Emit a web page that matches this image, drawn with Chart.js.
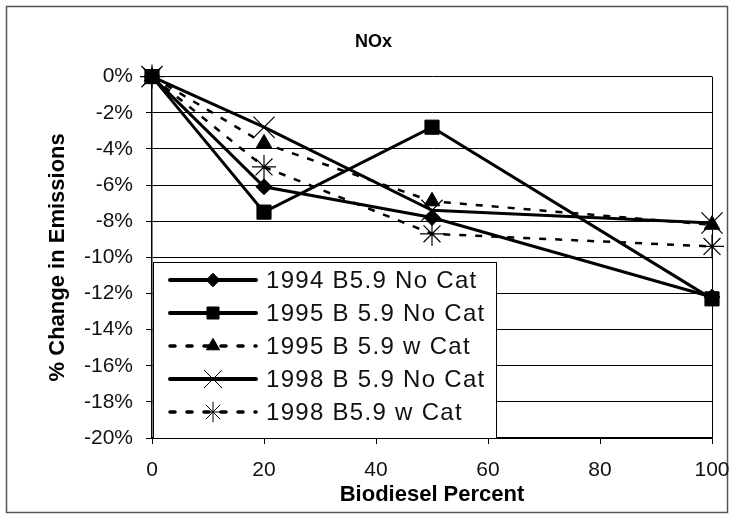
<!DOCTYPE html>
<html><head><meta charset="utf-8">
<script src="https://cdn.jsdelivr.net/npm/chart.js@4/dist/chart.umd.min.js"></script>
<style>html,body{margin:0;padding:0;background:#fff;}#wrap{width:733px;height:518px;position:relative;}</style>
</head><body><div id="wrap"><canvas id="c" width="733" height="518"></canvas></div>
<script>
// ---- data ----
const biodieselPercent = [0, 20, 50, 100];
const seriesNames = ['1994 B5.9 No Cat', '1995 B 5.9 No Cat', '1995 B 5.9 w Cat', '1998 B 5.9 No Cat', '1998 B5.9 w Cat'];
const nox1994NoCat = [0, -6.1, -7.8, -12.2];
const nox1995NoCat = [0, -7.5, -2.8, -12.3];
const nox1995WCat  = [0, -3.7, -6.9, -8.2];
const nox1998NoCat = [0, -2.8, -7.4, -8.1];
const nox1998WCat  = [0, -5.0, -8.7, -9.4];
const xTickValues = [0, 20, 40, 60, 80, 100];
const yTickValues = [0, -2, -4, -6, -8, -10, -12, -14, -16, -18, -20];
const yTickLabels = ['0%', '-2%', '-4%', '-6%', '-8%', '-10%', '-12%', '-14%', '-16%', '-18%', '-20%'];
const chartTitle = 'NOx';
const xTitle = 'Biodiesel Percent';
const yTitle = '% Change in Emissions';

// ---- styles ----
const seriesValues = [nox1994NoCat, nox1995NoCat, nox1995WCat, nox1998NoCat, nox1998WCat];
const seriesStyles = [
  {pointStyle: 'rectRot', radius: 8, dash: [], width: 3, pbw: 1},
  {pointStyle: 'rect', radius: 10, dash: [], width: 3, pbw: 1},
  {pointStyle: 'triangle', radius: 9, dash: [7, 9], width: 2.5, pbw: 1},
  {pointStyle: 'crossRot', radius: 15, dash: [], width: 3, pbw: 1.2},
  {pointStyle: 'star', radius: 12, dash: [7, 9], width: 2.5, pbw: 1.2}
];
const FONT = "'Liberation Sans', Arial, sans-serif";

const datasets = seriesNames.map((name, i) => {
  const s = seriesStyles[i];
  return {
    label: name,
    data: biodieselPercent.map((x, j) => ({x: x, y: seriesValues[i][j]})),
    borderColor: '#000',
    backgroundColor: '#000',
    borderWidth: s.width,
    borderDash: s.dash,
    pointStyle: s.pointStyle,
    pointRadius: s.radius,
    pointHoverRadius: s.radius,
    pointBorderWidth: s.pbw,
    pointBorderColor: '#000',
    pointBackgroundColor: '#000',
    tension: 0,
    clip: false
  };
});

const framePlugin = {
  id: 'frame',
  beforeDraw(chart) {
    const ctx = chart.ctx;
    ctx.save();
    ctx.fillStyle = '#fff';
    ctx.fillRect(0, 0, chart.width, chart.height);
    ctx.strokeStyle = '#555';
    ctx.lineWidth = 1.5;
    ctx.strokeRect(6.5, 6.5, 721, 506);
    ctx.restore();
  },
  afterDraw(chart) {
    const ctx = chart.ctx, a = chart.chartArea;
    ctx.save();
    ctx.strokeStyle = '#000';
    ctx.lineWidth = 1;
    ctx.beginPath();
    ctx.moveTo(Math.round(a.right) + 0.5, a.top);
    ctx.lineTo(Math.round(a.right) + 0.5, a.bottom);
    ctx.stroke();
    ctx.restore();
  }
};

const legendPlugin = {
  id: 'boxLegend',
  afterDatasetsDraw(chart) {
    const ctx = chart.ctx, a = chart.chartArea;
    const left = a.left + 1, right = 496, top = 262, bottom = a.bottom;
    ctx.save();
    ctx.fillStyle = '#fff';
    ctx.fillRect(left, top, right - left, bottom - top);
    ctx.strokeStyle = '#000';
    ctx.lineWidth = 1;
    ctx.strokeRect(left + 0.5, top + 0.5, right - left, bottom - top);
    const rowY0 = 280, rowStep = 33;
    seriesNames.forEach((name, i) => {
      const s = seriesStyles[i];
      const y = rowY0 + i * rowStep;
      ctx.save();
      ctx.strokeStyle = '#000';
      ctx.lineWidth = s.dash.length ? 3.5 : 4;
      ctx.lineCap = 'round';
      ctx.setLineDash(s.dash.length ? [5, 12] : []);
      ctx.beginPath();
      ctx.moveTo(170, y);
      ctx.lineTo(256, y);
      ctx.stroke();
      ctx.restore();
      ctx.save();
      ctx.fillStyle = '#000';
      ctx.strokeStyle = '#000';
      ctx.setLineDash([]);
      Chart.helpers.drawPoint(ctx, {pointStyle: s.pointStyle, radius: s.radius * 0.85, rotation: 0, borderWidth: s.pbw}, 213, y);
      ctx.restore();
      ctx.save();
      ctx.fillStyle = '#111';
      ctx.font = '24px ' + FONT;
      try { ctx.letterSpacing = '1.3px'; } catch (e) {}
      ctx.textBaseline = 'middle';
      ctx.textAlign = 'left';
      ctx.fillText(name, 266, y + 1);
      ctx.restore();
    });
    ctx.restore();
  }
};

new Chart(document.getElementById('c'), {
  type: 'line',
  data: {datasets: datasets},
  plugins: [framePlugin, legendPlugin],
  options: {
    responsive: false,
    devicePixelRatio: 1,
    animation: false,
    events: [],
    layout: {autoPadding: false, padding: {left: 35, right: 21, top: 0, bottom: 0}},
    plugins: {
      legend: {display: false},
      tooltip: {enabled: false},
      title: {
        display: true,
        text: chartTitle,
        color: '#000',
        font: {family: FONT, size: 18, weight: 'bold'},
        padding: {top: 31, bottom: 24}
      }
    },
    scales: {
      x: {
        type: 'linear',
        min: 0, max: 100,
        afterFit: (s) => { s.height = 80; s.paddingLeft = 0; s.paddingRight = 0; },
        afterBuildTicks: (s) => { s.ticks = xTickValues.map(v => ({value: v})); },
        ticks: {color: '#111', font: {family: FONT, size: 21}, padding: 14, maxRotation: 0, autoSkip: false},
        grid: {display: true, drawOnChartArea: false, drawTicks: true, tickLength: 6, color: '#000', lineWidth: 1},
        border: {display: true, color: '#000', width: 1.5},
        title: {display: true, text: xTitle, color: '#000', font: {family: FONT, size: 22, weight: 'bold'}, padding: {top: 0, bottom: 10}}
      },
      y: {
        type: 'linear',
        min: -20, max: 0,
        afterFit: (s) => { s.width = 117; },
        afterBuildTicks: (s) => { s.ticks = yTickValues.map(v => ({value: v})); },
        ticks: {
          color: '#111', font: {family: FONT, size: 21}, padding: 13, autoSkip: false,
          callback: (v) => yTickLabels[yTickValues.indexOf(v)]
        },
        grid: {display: true, drawOnChartArea: true, drawTicks: true, tickLength: 6, color: '#000', lineWidth: 1},
        border: {display: true, color: '#000', width: 1.5},
        title: {display: true, text: yTitle, color: '#000', font: {family: FONT, size: 22, weight: 'bold'}, padding: {top: 10, bottom: 0}}
      }
    }
  }
});
</script></body></html>
